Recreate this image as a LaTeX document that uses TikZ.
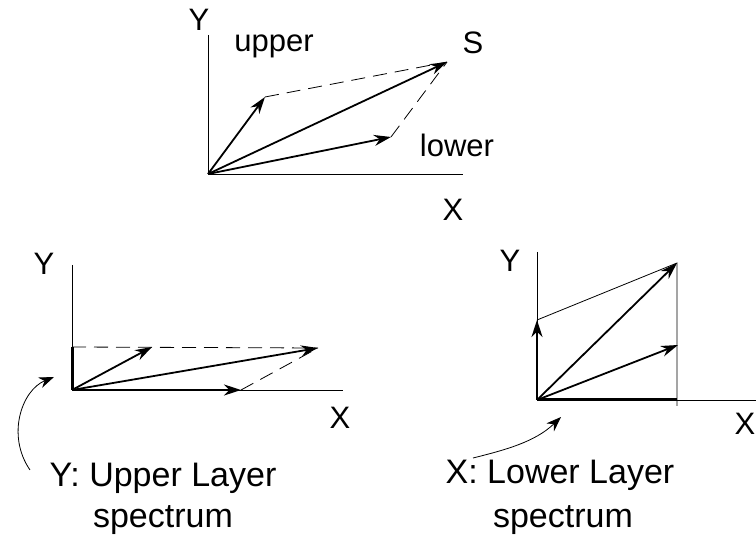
\documentclass[tikz,border=0pt]{standalone}
\usepackage{fontspec}
\setmainfont{Liberation Sans}
\usetikzlibrary{arrows.meta}

\tikzset{
  axis/.style={line width=0.8pt},
  vec/.style={line width=1.8pt,-{Stealth[length=17pt,width=11pt]}},
  proj/.style={line width=3pt},
  guide/.style={line width=0.8pt,dash pattern=on 14pt off 8pt},
  thin/.style={line width=0.8pt},
  pointer/.style={line width=0.8pt,-{Stealth[length=15pt,width=11pt]}},
  axlabel/.style={font=\fontsize{31}{33}\selectfont},
  vlabel/.style={font=\fontsize{31}{33}\selectfont},
  caption/.style={font=\fontsize{34}{36}\selectfont}
}

\begin{document}
\begin{tikzpicture}[x=1pt,y=-1pt]
      \useasboundingbox (0,0) rectangle (756,553);
      % top: sum of upper and lower
      \coordinate (oT) at (208,174);
      \coordinate (yT) at (208,35);
      \coordinate (xT) at (463,174);
      \coordinate (upT) at (265,97);
      \coordinate (loT) at (391,137);
      \coordinate (sT) at (447,62);
      \node[axlabel] (labYT) at (199,20) {Y};
      \node[axlabel] (labXT) at (453,210) {X};
      \node[vlabel] (labUp) at (274,46) {upper};
      \node[vlabel] (labS) at (473,43) {S};
      \node[vlabel] (labLo) at (457,145) {lower};
      \draw[axis] (yT) -- (oT) -- (xT);
      \draw[guide] (upT) -- (sT);
      \draw[guide] (loT) -- (sT);
      \draw[vec] (oT) -- (upT);
      \draw[vec] (oT) -- (loT);
      \draw[vec] (oT) -- (sT);

      % bottom left: upper layer
      \coordinate (oL) at (72,390);
      \coordinate (yL) at (72,265);
      \coordinate (xL) at (343,390);
      \coordinate (pyL) at (72,347);
      \coordinate (upL) at (152,347);
      \coordinate (loL) at (241,390);
      \coordinate (sL) at (318,348);
      \coordinate (tipL) at (54,377);
      \node[axlabel] (labYL) at (44,264) {Y};
      \node[axlabel] (labXL) at (340,418) {X};
      \draw[axis] (yL) -- (oL) -- (xL);
      \draw[proj] (oL) -- (pyL);
      \draw[guide] (pyL) -- (sL);
      \draw[guide] (loL) -- (sL);
      \draw[vec] (oL) -- (upL);
      \draw[vec] (oL) -- (sL);
      \draw[vec,line width=2.4pt] (oL) -- (loL);
      \node[caption] (capL) at (163,478) {Y: Upper Layer};
      \node[caption] (capL2) at (163,520) {spectrum};
      \draw[pointer] (30,470) .. controls (6,435) and (22,390) .. (tipL);

      % bottom right: lower layer
      \coordinate (oR) at (537,400);
      \coordinate (yR) at (537,252);
      \coordinate (xR) at (756,400);
      \coordinate (upR) at (537,320);
      \coordinate (loR) at (678,345);
      \coordinate (sR) at (677,263);
      \coordinate (pxR) at (677,400);
      \coordinate (tkR) at (677,406);
      \coordinate (tipR) at (561,417);
      \node[axlabel] (labYR) at (510,261) {Y};
      \node[axlabel] (labXR) at (745,424) {X};
      \draw[axis] (yR) -- (oR) -- (xR);
      \draw[thin] (upR) -- (sR) -- (tkR);
      \draw[proj] (oR) -- (pxR);
      \draw[vec,line width=2.4pt] (oR) -- (upR);
      \draw[vec] (oR) -- (loR);
      \draw[vec] (oR) -- (sR);
      \node[caption] (capR) at (560,475) {X: Lower Layer};
      \node[caption] (capR2) at (563,520) {spectrum};
      \draw[pointer] (473,458) .. controls (505,450) and (535,442) .. (tipR);
    \end{tikzpicture}
\end{document}
